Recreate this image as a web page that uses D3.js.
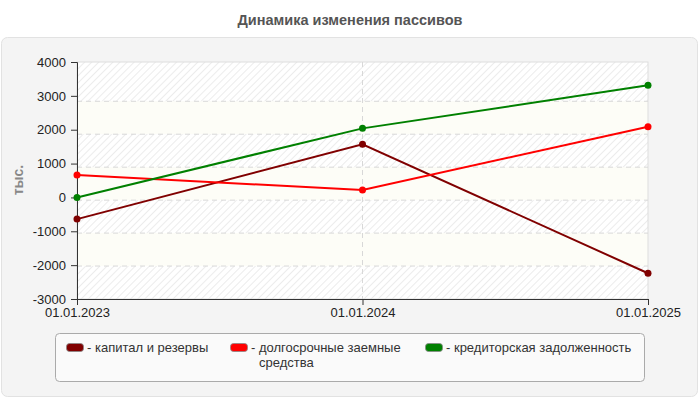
<!DOCTYPE html>
<html>
<head>
<meta charset="utf-8">
<script src="https://cdn.jsdelivr.net/npm/d3@7"></script>
<style>
  body { margin: 0; background: #fff; font-family: "Liberation Sans", Arial, sans-serif; }
</style>
</head>
<body>
<svg id="chart" width="700" height="400"></svg>
<script>
const dates = ["01.01.2023", "01.01.2024", "01.01.2025"];
const seriesNames = ["капитал и резервы", "долгосрочные заемные средства", "кредиторская задолженность"];
const kapital = [-640, 1570, -2240];
const dolgosrochnye = [660, 220, 2090];
const kreditorskaya = [0, 2040, 3310];
const yTicks = [4000, 3000, 2000, 1000, 0, -1000, -2000, -3000];
const colors = ["#800000", "#ff0000", "#008000"];

const series = [kapital, dolgosrochnye, kreditorskaya];

const svg = d3.select("#chart").style("font-family", "'Liberation Sans', Arial, sans-serif");
const width = 700;
const height = 400;
const margin = { top: 62, right: 52, bottom: 101, left: 77 };
const plotW = width - margin.left - margin.right;
const plotH = height - margin.top - margin.bottom;

// title
svg.append("text")
  .attr("x", width / 2)
  .attr("y", 25)
  .attr("text-anchor", "middle")
  .attr("font-size", "14.5px")
  .attr("font-weight", "bold")
  .attr("fill", "#555")
  .text("Динамика изменения пассивов");

// panel
svg.append("rect")
  .attr("x", 1.5).attr("y", 37.5)
  .attr("width", 696).attr("height", 359)
  .attr("rx", 6)
  .attr("fill", "#f4f4f4")
  .attr("stroke", "#e2e2e2");

const defs = svg.append("defs");
const pat = defs.append("pattern")
  .attr("id", "hatch")
  .attr("patternUnits", "userSpaceOnUse")
  .attr("width", 5).attr("height", 5)
  .attr("patternTransform", "rotate(45)");
pat.append("rect").attr("width", 5).attr("height", 5).attr("fill", "#ffffff");
pat.append("line")
  .attr("x1", 0).attr("y1", 0).attr("x2", 0).attr("y2", 5)
  .attr("stroke", "#e8e8e8").attr("stroke-width", 1.6);

const x = d3.scalePoint().domain(dates).range([0, plotW]);
const y = d3.scaleLinear().domain([-3000, 4000]).range([plotH, 0]);
// grid rows in the original sit a bit lower than the ticks
const gridY = d3.scaleLinear().domain([-3000, 4000]).range([plotH, 6.3]);

const g = svg.append("g").attr("transform", `translate(${margin.left},${margin.top})`);

// background bands
const bandVals = yTicks.slice(0, -1);
g.selectAll("rect.band")
  .data(bandVals)
  .enter()
  .append("rect")
  .attr("class", "band")
  .attr("x", 0)
  .attr("width", plotW)
  .attr("y", (d, i) => i === 0 ? 0 : gridY(d))
  .attr("height", (d, i) => gridY(d - 1000) - (i === 0 ? 0 : gridY(d)))
  .attr("fill", (d, i) => i % 2 === 0 ? "url(#hatch)" : "#fdfdf7");

// plot frame
g.append("rect")
  .attr("width", plotW).attr("height", plotH)
  .attr("fill", "none").attr("stroke", "#dddddd");

// horizontal grid
g.selectAll("line.hgrid")
  .data(yTicks.slice(1, -1))
  .enter()
  .append("line")
  .attr("class", "hgrid")
  .attr("x1", 0).attr("x2", plotW)
  .attr("y1", d => gridY(d)).attr("y2", d => gridY(d))
  .attr("stroke", "#d8d8d8")
  .attr("stroke-dasharray", "5,4");

// vertical grid
g.selectAll("line.vgrid")
  .data(dates.slice(1, -1))
  .enter()
  .append("line")
  .attr("class", "vgrid")
  .attr("x1", d => x(d)).attr("x2", d => x(d))
  .attr("y1", 0).attr("y2", plotH)
  .attr("stroke", "#d8d8d8")
  .attr("stroke-dasharray", "5,4");

// axes
const yAxis = g.append("g")
  .call(d3.axisLeft(y).tickValues(yTicks).tickSize(6).tickPadding(5).tickFormat(d => String(d)));
const xAxis = g.append("g")
  .attr("transform", `translate(0,${plotH})`)
  .call(d3.axisBottom(x).tickSize(6).tickPadding(3));

[yAxis, xAxis].forEach(a => {
  a.select(".domain").attr("stroke", "#333");
  a.selectAll(".tick line").attr("stroke", "#333");
  a.selectAll("text")
    .attr("font-family", "'Liberation Sans', Arial, sans-serif")
    .attr("font-size", "13px")
    .attr("fill", "#222");
});

// y label
svg.append("text")
  .attr("transform", "translate(23,180) rotate(-90)")
  .attr("text-anchor", "middle")
  .attr("font-size", "14px")
  .attr("font-weight", "bold")
  .attr("fill", "#888")
  .text("тыс.");

// lines and points
const line = d3.line().x((d, i) => x(dates[i])).y(d => y(d));
series.forEach((s, k) => {
  g.append("path")
    .datum(s)
    .attr("d", line)
    .attr("fill", "none")
    .attr("stroke", colors[k])
    .attr("stroke-width", 2);
  g.selectAll(null)
    .data(s)
    .enter()
    .append("circle")
    .attr("cx", (d, i) => x(dates[i]))
    .attr("cy", d => y(d))
    .attr("r", 3.5)
    .attr("fill", colors[k]);
});

// legend
const legend = svg.append("g");
legend.append("rect")
  .attr("x", 55.5).attr("y", 333.5)
  .attr("width", 589).attr("height", 48)
  .attr("rx", 4)
  .attr("fill", "#fafafa")
  .attr("stroke", "#aaaaaa");

const legendX = [66, 230, 425];
const legendLines = [["- капитал и резервы"], ["- долгосрочные заемные", "средства"], ["- кредиторская задолженность"]];
legendLines.forEach((lines, k) => {
  legend.append("rect")
    .attr("x", legendX[k] + 0.5).attr("y", 343.5)
    .attr("width", 17).attr("height", 8)
    .attr("rx", 3)
    .attr("fill", colors[k])
    .attr("stroke", "#888")
    .attr("stroke-width", 0.8);
  const t = legend.append("text")
    .attr("x", legendX[k] + 21)
    .attr("y", 352)
    .attr("font-size", "13px")
    .attr("fill", "#333");
  lines.forEach((ln, j) => {
    t.append("tspan")
      .attr("x", legendX[k] + (j === 0 ? 21 : 29))
      .attr("dy", j === 0 ? 0 : 15)
      .text(ln);
  });
});
</script>
</body>
</html>
